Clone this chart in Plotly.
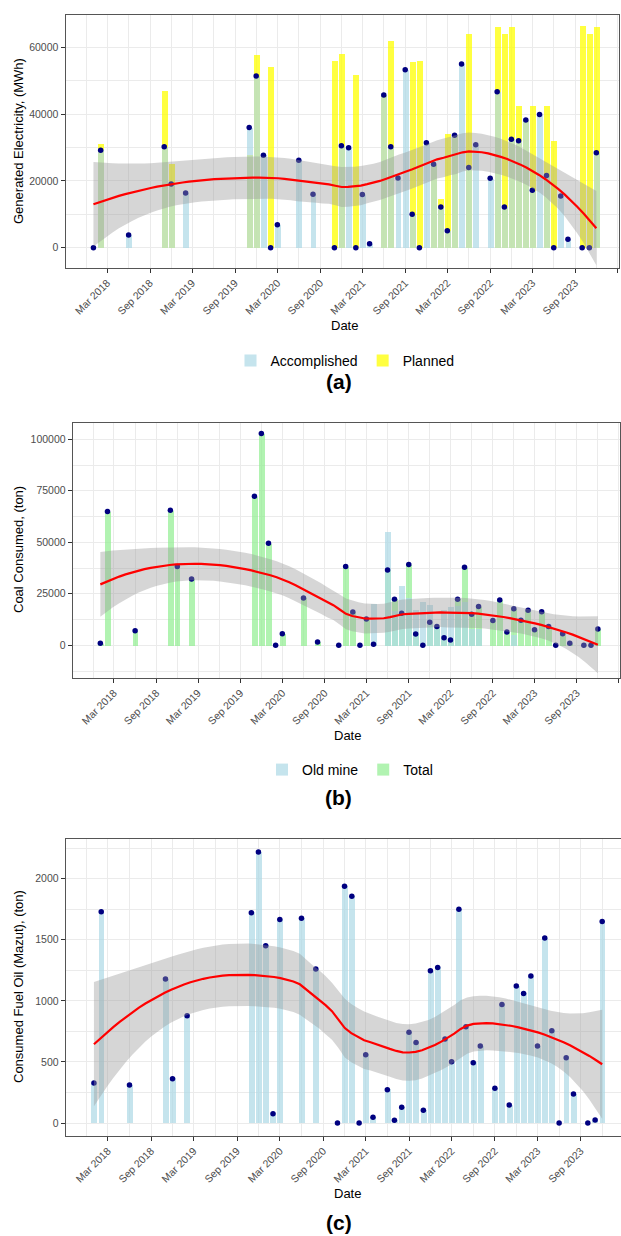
import numpy as np
import pandas as pd
import plotly.graph_objects as go

# ---------------- data ----------------
months = ["2018-01", "2018-02", "2018-06", "2018-11", "2018-12", "2019-02", "2019-11", "2019-12",
          "2020-01", "2020-02", "2020-03", "2020-06", "2020-08", "2020-11", "2020-12",
          "2021-01", "2021-02", "2021-03", "2021-04", "2021-06", "2021-07", "2021-08", "2021-09",
          "2021-10", "2021-11", "2021-12",
          "2022-01", "2022-02", "2022-03", "2022-04", "2022-05", "2022-06", "2022-07", "2022-09",
          "2022-10", "2022-11", "2022-12",
          "2023-01", "2023-02", "2023-03", "2023-04", "2023-05", "2023-06", "2023-07", "2023-08",
          "2023-10", "2023-11", "2023-12"]

# (a) generated electricity, MWh
accomplished = [0, 29200, 3800, 30200, 19100, 16400, 36000, 51400,
                27700, 0, 6900, 26200, 16000, 0, 30500,
                29900, 0, 15900, 1200, 45700, 30200, 20900, 53300, 10000, 0, 31400,
                25000, 12200, 5100, 33700, 55000, 24000, 30800, 20800, 46700, 12200, 32500,
                32000, 38200, 17200, 39900, 21600, 0, 15500, 2500, 0, 0, 28400]
planned = [0, 31000, 0, 47100, 25100, 0, 27700, 57800,
           0, 54100, 0, 0, 0, 56000, 58000,
           0, 51800, 0, 0, 45700, 62000, 0, 0, 55700, 55900, 0,
           25000, 14800, 34000, 33700, 0, 64000, 0, 0, 66200, 64000, 66100,
           42400, 38200, 42400, 0, 42400, 31900, 0, 0, 66600, 64000, 66200]

# (b) coal consumed, ton
old_mine = [0, 0, 0, 0, 0, 0, 0, 0,
            0, 0, 0, 0, 0, 0, 0,
            0, 0, 0, 20000, 55100, 17000, 28700, 22900, 17500, 21100, 19800,
            9100, 17500, 18500, 19000, 21000, 8000, 8000, 0, 0, 0, 5000,
            0, 0, 0, 0, 0, 0, 0, 0, 0, 0, 0]
total = [1000, 65000, 7100, 65500, 38300, 32200, 72300, 102800,
         49500, 0, 5600, 22900, 1600, 0, 38200,
         16200, 0, 12800, 500, 36600, 22400, 15600, 39200, 5500, 0, 11200,
         9100, 3700, 2600, 22400, 37900, 15100, 18800, 12000, 22000, 6500, 17700,
         12200, 17000, 7600, 16300, 9100, 0, 5600, 1000, 0, 0, 7900]

# (c) consumed fuel oil (mazut), ton
fuel_oil = [327, 1729, 311, 1178, 363, 878, 1721, 2218,
            1451, 76, 1667, 1677, 1260, 0, 1939,
            1857, 0, 559, 47, 273, 22, 128, 742, 660, 104, 1246,
            1274, 687, 502, 1749, 788, 494, 630, 284, 971, 147, 1121,
            1061, 1203, 630, 1514, 755, 0, 534, 237, 0, 25, 1650]

# rows per month in the long-format table fed to the smoother (two fill categories)
ROWS_PER_MONTH = 2

# ---------------- helpers ----------------
FONT = "Liberation Sans, Arial, Helvetica, sans-serif"
dates = pd.to_datetime([m + "-01" for m in months])
BAR_W = 0.9 * 28 * 86400000  # 0.9 * resolution (28 days), in ms


def t975(df):
    z = 1.959963985
    g1 = (z ** 3 + z) / 4
    g2 = (5 * z ** 5 + 16 * z ** 3 + 3 * z) / 96
    g3 = (3 * z ** 7 + 19 * z ** 5 + 17 * z ** 3 - 15 * z) / 384
    g4 = (79 * z ** 9 + 776 * z ** 7 + 1482 * z ** 5 - 1920 * z ** 3 - 945 * z) / 92160
    return z + g1 / df + g2 / df ** 2 + g3 / df ** 3 + g4 / df ** 4


def loess(xd, y, span=0.75, npts=80):
    x0m = np.mean(xd)
    x = (np.asarray(xd, float) - x0m) / 365.25
    y = np.asarray(y, float)
    n = len(x)
    q = int(np.floor(n * span))
    xs = np.linspace(x.min(), x.max(), npts)

    def row(x0):
        d = np.abs(x - x0)
        h = np.sort(d)[q - 1] * 1.0000001
        w = np.clip(1 - (d / h) ** 3, 0, None) ** 3
        X = np.column_stack([np.ones(n), x - x0, (x - x0) ** 2])
        XtW = X.T * w
        return np.linalg.solve(XtW @ X, XtW)[0]

    L = np.array([row(v) for v in x])
    Ln = np.array([row(v) for v in xs])
    fit = Ln @ y
    res = y - L @ y
    IL = np.eye(n) - L
    M = IL.T @ IL
    d1 = np.trace(M)
    d2 = np.trace(M @ M)
    s = np.sqrt(np.sum(res ** 2) / d1)
    se = s * np.sqrt(np.sum(Ln ** 2, axis=1))
    tq = t975(d1 ** 2 / d2)
    return xs * 365.25 + x0m, fit, fit - tq * se, fit + tq * se


days = ((dates - pd.Timestamp("1970-01-01")) / pd.Timedelta(days=1)).values.astype(float)


def smooth_traces(yvals, xa, ya):
    xd = np.tile(days, ROWS_PER_MONTH)
    yd = np.tile(np.asarray(yvals, float), ROWS_PER_MONTH)
    xs, fit, lo, hi = loess(xd, yd)
    xdt = pd.to_datetime(xs, unit="D")
    band = go.Scatter(x=list(xdt) + list(xdt[::-1]), y=list(lo) + list(hi[::-1]),
                      fill="toself", fillcolor="rgba(153,153,153,0.4)", line=dict(width=0),
                      mode="lines", hoverinfo="skip", showlegend=False, xaxis=xa, yaxis=ya)
    line = go.Scatter(x=xdt, y=fit, mode="lines", line=dict(color="#ff0000", width=2.2),
                      showlegend=False, xaxis=xa, yaxis=ya)
    return [band, line]


def points(yvals, xa, ya):
    return go.Scatter(x=dates, y=yvals, mode="markers",
                      marker=dict(color="#000080", size=5.5, line=dict(width=0)),
                      showlegend=False, xaxis=xa, yaxis=ya)


BLUE = "rgba(173,216,230,0.7)"
YELLOW = "rgba(255,255,0,0.75)"
GREEN = "rgba(144,238,144,0.7)"

traces = []
# panel a
traces.append(go.Bar(x=dates, y=planned, width=BAR_W, marker=dict(color=YELLOW, line=dict(width=0)),
                     name="Planned", legend="legend", legendrank=2, xaxis="x", yaxis="y"))
traces.append(go.Bar(x=dates, y=accomplished, width=BAR_W, marker=dict(color=BLUE, line=dict(width=0)),
                     name="Accomplished", legend="legend", legendrank=1, xaxis="x", yaxis="y"))
traces.append(points(accomplished, "x", "y"))
traces += smooth_traces(accomplished, "x", "y")
# panel b
traces.append(go.Bar(x=dates, y=total, width=BAR_W, marker=dict(color=GREEN, line=dict(width=0)),
                     name="Total", legend="legend2", legendrank=2, xaxis="x2", yaxis="y2"))
traces.append(go.Bar(x=dates, y=old_mine, width=BAR_W, marker=dict(color=BLUE, line=dict(width=0)),
                     name="Old mine", legend="legend2", legendrank=1, xaxis="x2", yaxis="y2"))
traces.append(points(total, "x2", "y2"))
traces += smooth_traces(total, "x2", "y2")
# panel c
traces.append(go.Bar(x=dates, y=fuel_oil, width=BAR_W, marker=dict(color=BLUE, line=dict(width=0)),
                     name="Fuel oil", showlegend=False, xaxis="x3", yaxis="y3"))
traces.append(points(fuel_oil, "x3", "y3"))
traces += smooth_traces(fuel_oil, "x3", "y3")

fig = go.Figure(traces)

W, H = 621, 1236
BORDER = "#555555"
GRID = "#ebebeb"
TICKC = "#4d4d4d"


def px_x(p):
    return p / W


def px_y(p):
    return 1 - p / H


def xcfg(x0, x1, y_anchor, rng):
    return dict(domain=[px_x(x0), min(1.0, px_x(x1))], anchor=y_anchor, type="date", range=rng,
                tick0="2018-03-01", dtick="M6", tickformat="%b %Y", tickangle=-45,
                ticks="outside", ticklen=4, tickwidth=1, tickcolor="#333333",
                tickfont=dict(size=10.5, color=TICKC, family=FONT),
                showgrid=True, gridcolor=GRID, gridwidth=1,
                minor=dict(dtick="M3", tick0="2017-12-01", showgrid=True, gridcolor=GRID, gridwidth=0.6),
                showline=True, mirror=True, linecolor=BORDER, linewidth=1, zeroline=False)


def ycfg(y0, y1, x_anchor, rng, dtick):
    return dict(domain=[px_y(y1), px_y(y0)], anchor=x_anchor, range=rng, tick0=0, dtick=dtick,
                tickformat="d", ticks="outside", ticklen=4, tickwidth=1, tickcolor="#333333",
                tickfont=dict(size=10.5, color=TICKC, family=FONT),
                showgrid=True, gridcolor=GRID, gridwidth=1,
                minor=dict(dtick=dtick / 2, tick0=0, showgrid=True, gridcolor=GRID, gridwidth=0.6),
                showline=True, mirror=True, linecolor=BORDER, linewidth=1, zeroline=False)


XR = ["2017-09-03", "2024-03-06"]
XR_C = ["2017-09-03", "2024-02-19"]

annotations = []


def ann(text, x, y, size, bold=False, angle=0):
    annotations.append(dict(text=("<b>%s</b>" % text) if bold else text, x=px_x(x), y=px_y(y),
                            xref="paper", yref="paper", showarrow=False, textangle=angle,
                            xanchor="center", yanchor="middle",
                            font=dict(size=size, color="#000000", family=FONT)))


ann("Generated Electricity, (MWh)", 18, 141, 13, angle=-90)
ann("Date", 344, 325, 13)
ann("(a)", 339, 382, 21, bold=True)
ann("Coal Consumed, (ton)", 18, 550, 13, angle=-90)
ann("Date", 347, 735, 13)
ann("(b)", 338, 797, 21, bold=True)
ann("Consumed Fuel Oil (Mazut), (ton)", 18, 987, 13, angle=-90)
ann("Date", 347, 1193, 13)
ann("(c)", 339, 1222, 21, bold=True)

legend_common = dict(orientation="h", xanchor="center", yanchor="middle", bgcolor="rgba(0,0,0,0)",
                     font=dict(size=14, color="#000000", family=FONT), itemwidth=30,
                     traceorder="normal")

fig.update_layout(
    width=W, height=H, margin=dict(l=0, r=0, t=0, b=0),
    paper_bgcolor="white", plot_bgcolor="white", barmode="overlay", bargap=0,
    font=dict(family=FONT),
    xaxis=xcfg(65.5, 618.7, "y", XR),
    yaxis=ycfg(14.7, 267.7, "x", [-5990, 69760], 20000),
    xaxis2=xcfg(72.7, 620, "y2", XR),
    yaxis2=ycfg(422.7, 677.7, "x2", [-15730, 108050], 25000),
    xaxis3=xcfg(65.7, 621, "y3", XR_C),
    yaxis3=ycfg(839.3, 1135.7, "x3", [-104, 2322.7], 500),
    legend=dict(x=px_x(345), y=px_y(361), **legend_common),
    legend2=dict(x=px_x(350), y=px_y(770), **legend_common),
    annotations=annotations,
    showlegend=True,
)

fig.write_html("out.html", config={"displayModeBar": False},
               post_script="document.body.style.margin='0';document.body.style.padding='0';"
                           "document.body.style.overflow='hidden';")
